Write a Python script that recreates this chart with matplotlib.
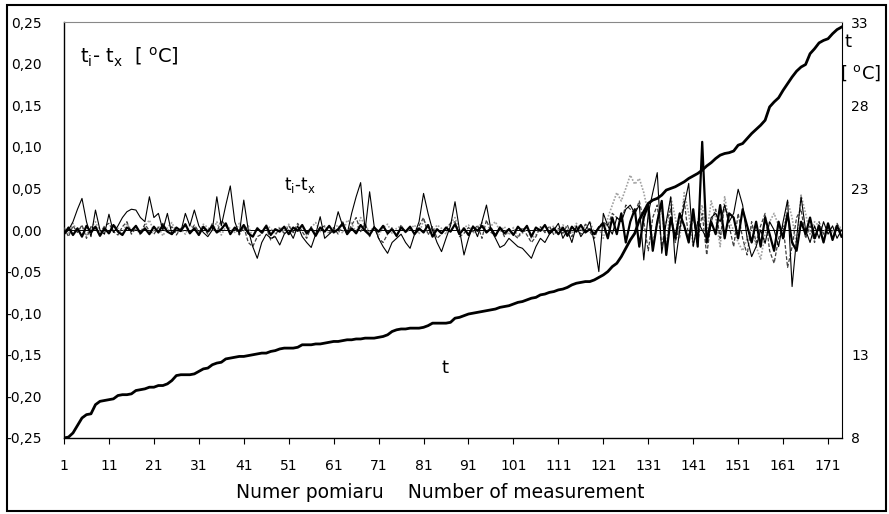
import numpy as np
import matplotlib
matplotlib.use('Agg')
import matplotlib.pyplot as plt
from matplotlib.patches import Rectangle

plt.rcParams['font.family'] = ['DejaVu Sans']
plt.rcParams['mathtext.fontset'] = 'dejavusans'

# measurement number 1..174
n = np.arange(1, 175)

# temperature t [degC], right axis
t = [8.0, 8.05, 8.3, 8.75, 9.2, 9.4, 9.45, 10.0, 10.2, 10.25,
     10.3, 10.35, 10.55, 10.6, 10.6, 10.65, 10.85, 10.9, 10.95, 11.05,
     11.05, 11.15, 11.15, 11.25, 11.45, 11.75, 11.8, 11.8, 11.8, 11.85,
     12.0, 12.15, 12.2, 12.4, 12.5, 12.55, 12.75, 12.8, 12.85, 12.9,
     12.9, 12.95, 13.0, 13.05, 13.1, 13.1, 13.2, 13.25, 13.35, 13.4,
     13.4, 13.4, 13.45, 13.6, 13.6, 13.6, 13.65, 13.65, 13.7, 13.75,
     13.8, 13.8, 13.85, 13.9, 13.9, 13.95, 13.95, 14.0, 14.0, 14.0,
     14.05, 14.1, 14.2, 14.4, 14.5, 14.55, 14.55, 14.6, 14.6, 14.6,
     14.65, 14.75, 14.9, 14.9, 14.9, 14.9, 14.95, 15.2, 15.25, 15.35,
     15.45, 15.5, 15.55, 15.6, 15.65, 15.7, 15.75, 15.85, 15.9, 15.95,
     16.05, 16.15, 16.2, 16.3, 16.4, 16.45, 16.6, 16.65, 16.75, 16.8,
     16.9, 16.95, 17.05, 17.2, 17.3, 17.35, 17.4, 17.4, 17.5, 17.65,
     17.8, 18.0, 18.3, 18.5, 18.9, 19.4, 19.9, 20.3, 21.1, 21.6,
     22.1, 22.3, 22.4, 22.6, 22.9, 23.0, 23.1, 23.25, 23.4, 23.6,
     23.75, 23.9, 24.1, 24.35, 24.55, 24.8, 25.0, 25.1, 25.15, 25.25,
     25.6, 25.7, 26.0, 26.3, 26.55, 26.8, 27.1, 27.9, 28.2, 28.45,
     28.9, 29.3, 29.7, 30.05, 30.3, 30.45, 31.1, 31.4, 31.75, 31.9,
     32.0, 32.3, 32.55, 32.7]

# differences ti - tx, in thousandths of degC (left axis)
d_thin = [-5, 0, 10, 25, 38, 10, -8, 24, 0, -5,
          19, -3, 5, 15, 22, 25, 24, 15, 10, 40,
          15, 20, 0, 20, -5, 0, -2, 20, 5, 24,
          5, -3, -8, 0, 40, 5, 30, 53, 10, -5,
          36, 0, -20, -34, -15, -5, -10, -8, -18, -5,
          0, -10, 5, -8, -15, -21, -5, 16, -10, -5,
          0, 22, 5, -5, 20, 40, 57, 0, 46, 5,
          -10, -20, -28, -15, -10, -5, -15, -22, -5, 10,
          44, 20, 0, -15, -26, -10, 5, 34, 0, -30,
          -10, 5, -8, 10, 30, 0, -10, -21, -18, -10,
          -15, -20, -22, -28, -34, -20, -10, -15, -5, 0,
          8, -10, 0, -15, 5, -8, 0, 10, -15, -50,
          20, 5, -5, 15, 10, 25, 30, 20, 30, -36,
          20, 45, 69, -28, 10, 40, -40, 0, 30, 56,
          -20, 10, 0, -10, 15, 20, 10, 30, 10, 20,
          49, 30, -10, -32, -20, 0, -16, 10, 0, -20,
          10, 36, -68, -10, 40, 0, -15, 5, -10, 10,
          -5, 5, -10, 0]

d_thick = [-5, 3, -6, 2, -8, 5, -3, 4, -7, 2,
           -4, 6, -2, -6, 3, -1, 5, -4, 2, -5,
           4, -3, 6, -2, -5, 3, -1, 7, -4, 2,
           -6, 4, -2, 5, -3, 1, 8, -5, 3, -2,
           6, -4, -8, 2, -3, 5, -6, 1, -2, 4,
           -5, 3, -1, 6, -4, 2, -7, 3, -2, 5,
           -3, 1, 8, -5, 2, -4, 6, -1, -6, 3,
           -2, 5, -4, 1, -7, 3, -2, 4, -5, 2,
           -3, 6, -8, 1, -4, 3, -2, 7, -5, 2,
           -6, 4, -1, 5, -3, 2, -7, 3, -4, 1,
           -6, 4, -2, 5, -8, 3, -1, 6, -4, 2,
           -5, 3, -7, 4, -2, 6, -3, 1, -5, 3,
           8, -10, 15, -5, 20, -15, 10, 25, -20, 15,
           30, -25, 10, 35, -30, 15, -10, 20, 5, -15,
           25, -20, 106, -15, 10, -5, 30, -10, 20, 15,
           -10, 25, 5, -15, 10, -20, 15, -5, -25, 10,
           -10, 20, -15, -25, 10, -5, 15, -10, 5, -15,
           8, -12, 5, -8]

d_dotted = [2, -4, 8, -2, 5, -6, 3, 10, -3, 4,
            -5, 6, 2, -4, 8, -1, 3, -6, 5, 12,
            -2, 4, -7, 3, 9, -3, 1, -5, 6, 2,
            -4, 7, 3, -2, 10, -6, 4, 2, -3, 8,
            -1, 5, -9, 3, -4, 6, 2, -5, 4, -2,
            7, -3, 1, 5, -6, 3, 9, -2, 4, -5,
            2, 6, -4, 12, 8, -3, 15, 5, -2, 4,
            -6, 3, 7, -4, 2, 5, -3, 1, 6, -5,
            12, 4, -3, 6, 2, -5, 8, 15, -2, 3,
            6, -4, 2, 9, -3, 5, 10, -2, 4, -6,
            3, -8, -4, 2, -10, -6, 4, -3, 1, 5,
            -2, 6, 3, -4, 8, -1, 5, 10, -3, 2,
            -10, 15, 30, 45, 35, 50, 66, 55, 62, 45,
            20, -15, 10, 25, -25, 40, 15, -10, 45, 20,
            -20, 10, 30, -5, 35, 15, -20, 40, 10, 0,
            -15, -25, -10, 5, -20, -35, -5, 10, 20, 5,
            -10, 35, 15, -20, 42, 20, -5, 10, 5, -5,
            8, -3, 6, 2]

d_dashed = [3, -8, 5, -3, 6, -10, 4, 2, -6, 5,
            8, -2, -6, 4, 10, -5, 2, -3, 7, -1,
            -5, 3, 8, -2, 4, -6, 2, 5, -4, 6,
            -2, 3, -5, 8, -3, 12, 5, -4, 2, -6,
            4, -15, -20, -8, -5, 3, -12, -6, 2, -4,
            5, -3, 8, -2, -10, 4, -6, 2, 5, -3,
            3, -5, 10, -4, 6, 15, -2, 8, -8, 4,
            -10, -15, -5, 3, -8, 6, -3, 2, -4, 5,
            15, -6, 4, -10, -5, 2, 8, 10, -8, -4,
            3, -2, 6, -10, 12, -3, -6, 4, -8, 2,
            -5, -10, 3, -6, -15, -8, 4, -3, 5, -6,
            2, -4, 6, -8, 3, -5, 7, -2, -10, 4,
            10, 5, 20, 15, 10, 30, 25, 20, 35, 10,
            -25, 15, 30, -20, 10, 25, -15, 5, 35, -10,
            15, -15, 20, -30, 10, 25, -10, 30, 5, -20,
            20, -10, -30, 10, -15, 5, 20, -25, -40, -10,
            5, -45, -20, 15, 25, -10, 5, -15, 10, -5,
            4, -10, 8, -3]

left_ticks = [-0.25, -0.20, -0.15, -0.10, -0.05, 0.0, 0.05, 0.10, 0.15, 0.20, 0.25]
right_ticks = [8, 13, 18, 23, 28, 33]
right_labels = ['8', '13', '', '23', '28', '33']
x_ticks = list(range(1, 172, 10))

fig = plt.figure(figsize=(8.89, 5.14), dpi=100)
ax = fig.add_axes([0.072, 0.148, 0.8746, 0.809])

ax.axhline(0, color='black', lw=0.7, zorder=1)
ax.plot(n, np.array(d_dotted) / 1000, color='#a0a0a0', lw=1.2, ls=(0, (1, 1)), zorder=2)
ax.plot(n, np.array(d_dashed) / 1000, color='#404040', lw=0.9, ls=(0, (3, 1.5)), zorder=3)
ax.plot(n, np.array(d_thin) / 1000, color='black', lw=0.8, zorder=4)
ax.plot(n, np.array(d_thick) / 1000, color='black', lw=1.6, zorder=5)

ax.set_xlim(1, 174)
ax.set_ylim(-0.25, 0.25)
ax.set_yticks(left_ticks)
ax.set_yticklabels(['{:.2f}'.format(v).replace('.', ',') for v in left_ticks])
ax.set_xticks(x_ticks)
ax.tick_params(axis='y', length=0, pad=16, labelsize=10)
ax.tick_params(axis='x', length=4, width=0.8, direction='out', pad=11, labelsize=10)
ax.spines['top'].set_color('#888888')
ax.spines['top'].set_linewidth(0.8)
ax.spines['left'].set_linewidth(1.0)
ax.spines['bottom'].set_linewidth(1.0)
ax.spines['right'].set_linewidth(0.8)

ax2 = ax.twinx()
ax2.plot(n, t, color='black', lw=2.0, zorder=6)
ax2.set_ylim(8, 33)
ax2.set_yticks(right_ticks)
ax2.set_yticklabels(right_labels)
ax2.tick_params(axis='y', length=0, pad=7, labelsize=10)
for s in ax2.spines.values():
    s.set_visible(False)

# annotations
ax.text(0.02, 0.915, r'$\mathregular{t_i}$- $\mathregular{t_x}$  [ $\mathregular{^o}$C]',
        transform=ax.transAxes, fontsize=14, va='center', ha='left')
ax.text(0.303, 0.608, r'$\mathregular{t_i}$-$\mathregular{t_x}$', transform=ax.transAxes,
        fontsize=12, va='center', ha='center', zorder=10)
ax.text(0.49, 0.168, 't', transform=ax.transAxes, fontsize=13, va='center', ha='center')
fig.text(848 / 889, 1 - 42 / 514, 't', fontsize=13, ha='center', va='center')
fig.text(861 / 889, 1 - 73 / 514, r'[ $\mathregular{^o}$C]', fontsize=13, ha='center', va='center')
fig.text(440 / 889, 1 - 492 / 514, 'Numer pomiaru    Number of measurement',
         fontsize=13.5, ha='center', va='center')

# outer chart frame
fig.patches.append(Rectangle((7 / 889, 3 / 514), 879 / 889, 506 / 514, transform=fig.transFigure,
                             fill=False, edgecolor='black', lw=1.5))

fig.savefig('out.png', dpi=100)
